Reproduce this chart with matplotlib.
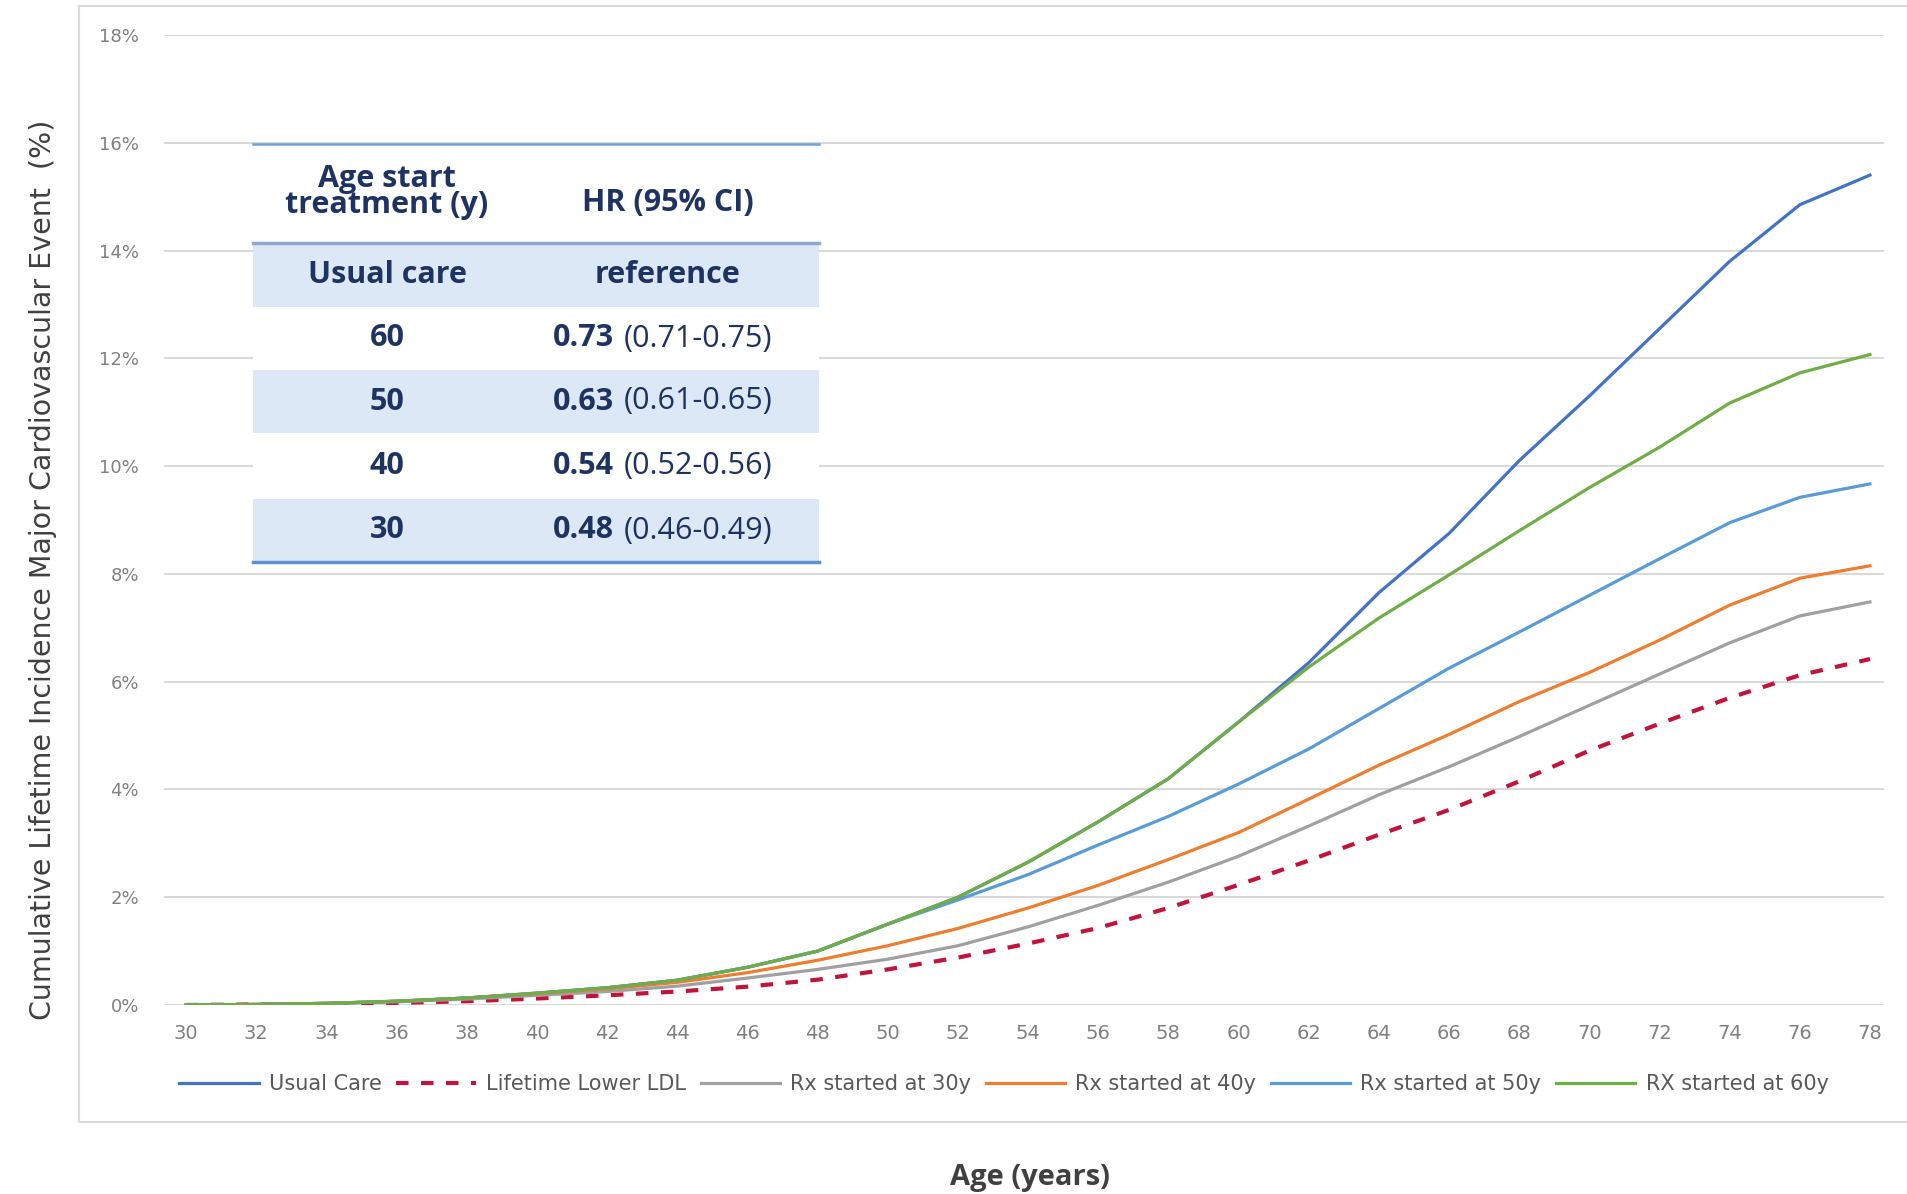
import matplotlib
matplotlib.use("Agg")
import matplotlib.pyplot as plt
from matplotlib.patches import Rectangle
from matplotlib.ticker import FuncFormatter

# values (cumulative incidence, %)
ages = [30, 32, 34, 36, 38, 40, 42, 44, 46, 48, 50, 52, 54, 56, 58, 60, 62, 64, 66, 68, 70, 72, 74, 76, 78]
usual_care = [0, 0.01, 0.03, 0.07, 0.13, 0.22, 0.32, 0.46, 0.70, 1.00, 1.50, 2.00, 2.65, 3.40, 4.20, 5.25, 6.35, 7.65, 8.75, 10.1, 11.3, 12.55, 13.8, 14.85, 15.4]
lower_ldl = [0, 0.01, 0.02, 0.04, 0.07, 0.12, 0.18, 0.25, 0.34, 0.47, 0.66, 0.88, 1.14, 1.43, 1.80, 2.23, 2.68, 3.16, 3.62, 4.15, 4.72, 5.22, 5.70, 6.12, 6.42]
rx30 = [0, 0.01, 0.03, 0.06, 0.11, 0.18, 0.25, 0.35, 0.50, 0.66, 0.85, 1.10, 1.45, 1.85, 2.28, 2.76, 3.32, 3.90, 4.42, 4.98, 5.56, 6.14, 6.72, 7.22, 7.48]
rx40 = [0, 0.01, 0.03, 0.07, 0.13, 0.21, 0.30, 0.42, 0.60, 0.83, 1.10, 1.42, 1.80, 2.22, 2.70, 3.20, 3.82, 4.45, 5.02, 5.63, 6.17, 6.77, 7.42, 7.92, 8.15]
rx50 = [0, 0.01, 0.03, 0.07, 0.13, 0.22, 0.32, 0.46, 0.70, 1.00, 1.50, 1.95, 2.42, 2.97, 3.50, 4.10, 4.75, 5.50, 6.25, 6.92, 7.60, 8.28, 8.95, 9.42, 9.67]
rx60 = [0, 0.01, 0.03, 0.07, 0.13, 0.22, 0.32, 0.46, 0.70, 1.00, 1.50, 2.00, 2.65, 3.40, 4.20, 5.25, 6.27, 7.18, 7.98, 8.80, 9.60, 10.35, 11.17, 11.73, 12.07]

labels = ["Usual Care", "Lifetime Lower LDL", "Rx started at 30y", "Rx started at 40y",
          "Rx started at 50y", "RX started at 60y"]
colors = ["#4472C4", "#C0143C", "#A0A0A0", "#ED7D31", "#5B9BD5", "#70AD47"]

# inset table
tab_age = ["Usual care", "60", "50", "40", "30"]
tab_hr = ["reference", "0.73", "0.63", "0.54", "0.48"]
tab_ci = ["", "(0.71-0.75)", "(0.61-0.65)", "(0.52-0.56)", "(0.46-0.49)"]

W, H = 1908, 1194
fig = plt.figure(figsize=(W / 100, H / 100), dpi=100)

# outer chart border
fig.add_artist(Rectangle((79 / W, 1 - 1122 / H), 1.0, 1116 / H, transform=fig.transFigure,
                         fill=False, edgecolor="#D9D9D9", linewidth=1.5))

ax = fig.add_axes([164 / W, 1 - 1005 / H, 1720 / W, 970 / H])
series = [usual_care, lower_ldl, rx30, rx40, rx50, rx60]
for vals, lab, col in zip(series, labels, colors):
    if lab == "Lifetime Lower LDL":
        ax.plot(ages, vals, color=col, lw=3, ls=(0, (3, 3)), label=lab, zorder=3)
    else:
        ax.plot(ages, vals, color=col, lw=2.3, label=lab, zorder=3)

ax.set_xlim(29.37, 78.4)
ax.set_ylim(0, 18)
ax.set_xticks(range(30, 79, 2))
ax.set_yticks(range(0, 19, 2))
ax.yaxis.set_major_formatter(FuncFormatter(lambda v, p: f"{v:.0f}%"))
ax.grid(axis="y", color="#D9D9D9", lw=1.5)
ax.set_axisbelow(True)
for s in ax.spines.values():
    s.set_visible(False)
ax.tick_params(length=0, colors="#808080")
ax.tick_params(axis="y", pad=18, labelsize=13)
ax.tick_params(axis="x", pad=14, labelsize=14)

leg = fig.legend(loc="center", bbox_to_anchor=(1004 / W, 1 - 1084 / H), ncol=6, frameon=False,
                 handlelength=3.8, handletextpad=0.5, columnspacing=0.7,
                 prop={"size": 15})
for t in leg.get_texts():
    t.set_color("#595959")

fig.text(43 / W, 1 - 570 / H, "Cumulative Lifetime Incidence Major Cardiovascular Event  (%)",
         rotation=90, ha="center", va="center", fontsize=20.5, color="#404040")
fig.text(1030 / W, 1 - 1178 / H, "Age (years)", ha="center", va="center", fontsize=21,
         fontweight="bold", color="#404040", family=["Open Sans", "DejaVu Sans"])

# table overlay in pixel coordinates
tx = fig.add_axes([0, 0, 1, 1], zorder=5)
tx.set_xlim(0, W)
tx.set_ylim(H, 0)
tx.axis("off")
x0, x1 = 253, 819
row_edges = [243, 307, 370, 433, 499, 562]
tx.add_patch(Rectangle((x0, 144), x1 - x0, 562 - 144, facecolor="white", edgecolor="none"))
for i in range(len(tab_age)):
    if i % 2 == 0:
        tx.add_patch(Rectangle((x0, row_edges[i]), x1 - x0, row_edges[i + 1] - row_edges[i],
                               facecolor="#DCE8F5", edgecolor="none"))
tx.plot([x0, x1], [144, 144], color="#6FA0D8", lw=1.8)
tx.plot([x0, x1], [243, 243], color="#8FA9CC", lw=2.5)
tx.plot([x0, x1], [562, 562], color="#5E92D2", lw=2.5)

navy = "#1F3363"
tfont = ["Open Sans", "DejaVu Sans"]
fs = 22
c1, c2 = 387, 668
tx.text(c1, 192, "Age start\ntreatment (y)", ha="center", va="center", fontsize=fs,
        fontweight="bold", color=navy, family=tfont, linespacing=0.8)
tx.text(c2, 203, "HR (95% CI)", ha="center", va="center", fontsize=fs,
        fontweight="bold", color=navy, family=tfont)
for i, (a, hr, ci) in enumerate(zip(tab_age, tab_hr, tab_ci)):
    yc = (row_edges[i] + row_edges[i + 1]) / 2
    tx.text(c1, yc, a, ha="center", va="center", fontsize=fs, fontweight="bold",
            color=navy, family=tfont)
    if ci:
        tx.text(614, yc, hr, ha="right", va="center", fontsize=fs, fontweight="bold",
                color=navy, family=tfont)
        tx.text(624, yc, ci, ha="left", va="center", fontsize=fs, color=navy, family=tfont)
    else:
        tx.text(c2, yc, hr, ha="center", va="center", fontsize=fs, fontweight="bold",
                color=navy, family=tfont)

fig.savefig("out.png", dpi=100)
